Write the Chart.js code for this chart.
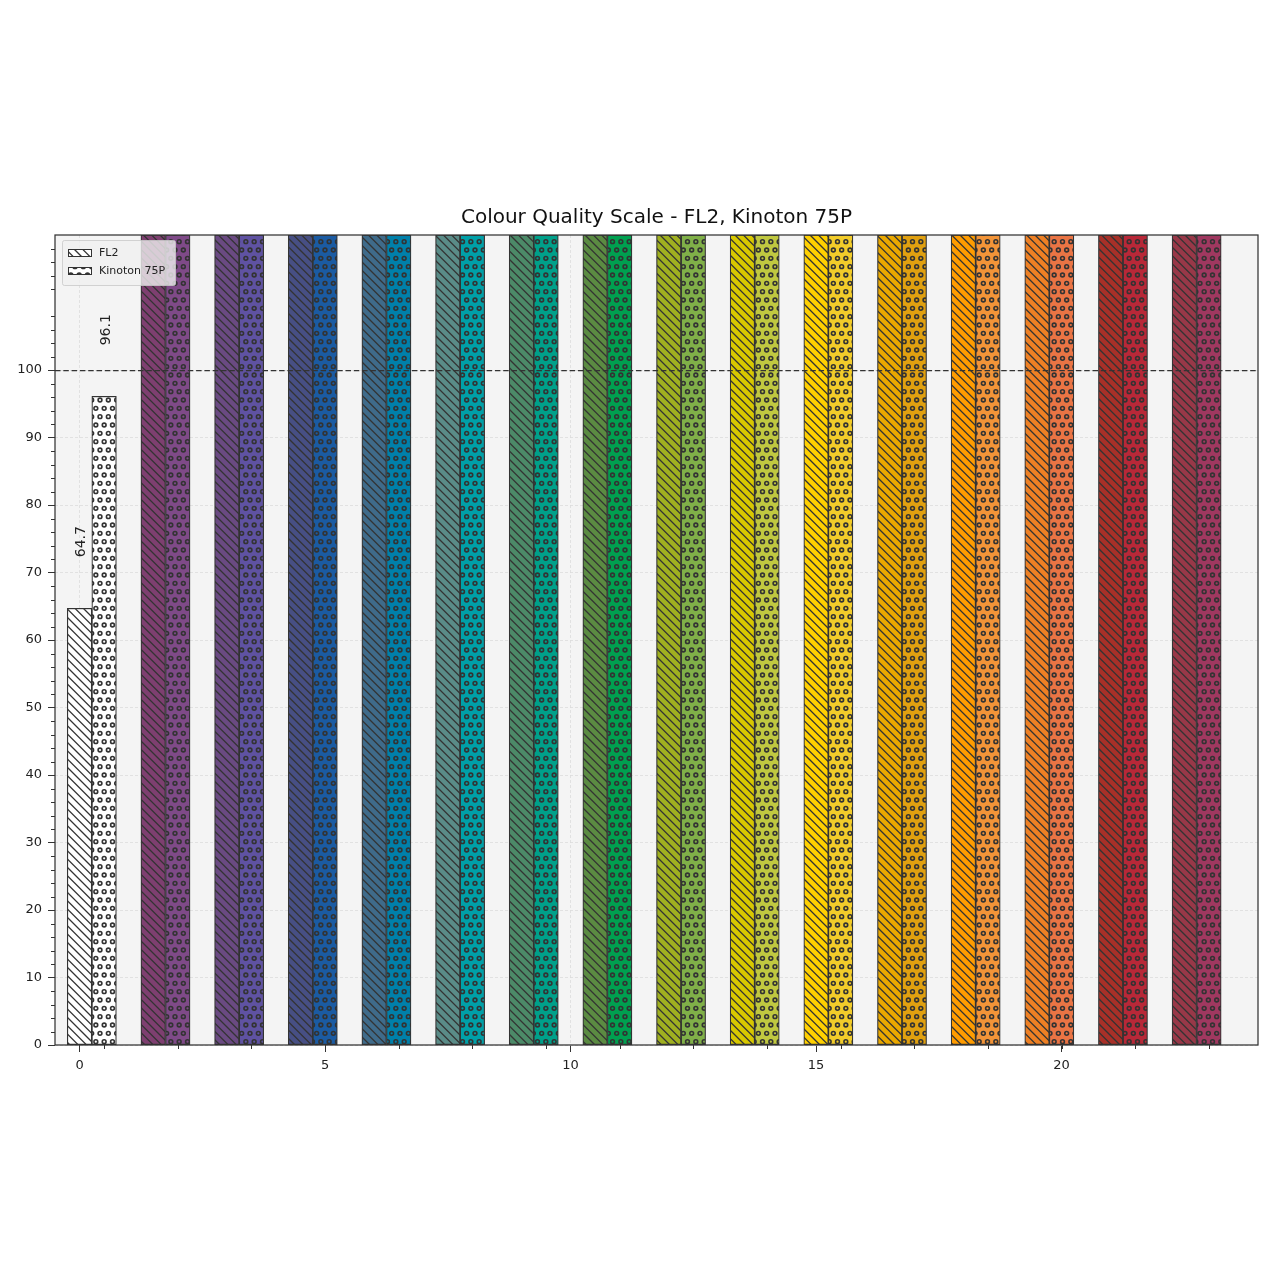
<!DOCTYPE html>
<html>
<head>
<meta charset="utf-8">
<script src="https://cdn.jsdelivr.net/npm/chart.js@4/dist/chart.umd.min.js"></script>
<style>
html,body{margin:0;padding:0;background:#ffffff;}
#wrap{width:1280px;height:1280px;}
</style>
</head>
<body>
<div id="wrap"><canvas id="c" width="1280" height="1280"></canvas></div>
<script>
// ---------------- data ----------------
const titleText = 'Colour Quality Scale - FL2, Kinoton 75P';
const seriesNames = ['FL2', 'Kinoton 75P'];
const sampleNames = ['Qa', 'Q1', 'Q2', 'Q3', 'Q4', 'Q5', 'Q6', 'Q7', 'Q8', 'Q9', 'Q10', 'Q11', 'Q12', 'Q13', 'Q14', 'Q15'];
const fl2Positions = [0, 1.5, 3, 4.5, 6, 7.5, 9, 10.5, 12, 13.5, 15, 16.5, 18, 19.5, 21, 22.5];
const kinotonPositions = [0.5, 2, 3.5, 5, 6.5, 8, 9.5, 11, 12.5, 14, 15.5, 17, 18.5, 20, 21.5, 23];
const fl2Values = [64.7, 120, 120, 120, 120, 120, 120, 120, 120, 120, 120, 120, 120, 120, 120, 120];
const kinotonValues = [96.1, 120, 120, 120, 120, 120, 120, 120, 120, 120, 120, 120, 120, 120, 120, 120];
const labelledIndices = [0];
const referenceValue = 100;
const xMajorTicks = [0, 5, 10, 15, 20];
const xMinorTicks = [0.5, 2, 3.5, 5, 6.5, 8, 9.5, 11, 12.5, 14, 15.5, 17, 18.5, 20, 21.5, 23];
const yMajorTicks = [0, 10, 20, 30, 40, 50, 60, 70, 80, 90, 100];
const yMinorTicks = [2, 4, 6, 8, 12, 14, 16, 18, 22, 24, 26, 28, 32, 34, 36, 38, 42, 44, 46, 48,
  52, 54, 56, 58, 62, 64, 66, 68, 72, 74, 76, 78, 82, 84, 86, 88, 92, 94, 96, 98,
  102, 104, 106, 108, 112, 114, 116, 118];

// ---------------- styles ----------------
const fl2Colours = ['#ffffff', '#7e3f70', '#6a4a82', '#474f84', '#3f6b8a', '#5a8c88', '#4c8a68', '#5b8b42',
  '#a0b020', '#d8c800', '#ffd000', '#eaa800', '#ff9c00', '#ee8024', '#a83028', '#983848'];
const kinotonColours = ['#ffffff', '#7f4a88', '#5f52a2', '#1b5ba2', '#0080aa', '#00a0a8', '#00a08a', '#00a050',
  '#80b048', '#c0c840', '#f2cc2a', '#e0a010', '#f29438', '#ea7444', '#b82838', '#a03860'];
const edgeColour = '#333333';
const FONT = "'DejaVu Sans', sans-serif";

function makePattern(colour, kind) {
  const s = 100, step = s / 12;
  const t = document.createElement('canvas');
  t.width = s; t.height = s;
  const g = t.getContext('2d');
  g.fillStyle = colour;
  g.fillRect(0, 0, s, s);
  g.strokeStyle = edgeColour;
  if (kind === 'lines') {
    g.lineWidth = 1.3;
    g.beginPath();
    for (let c = -s; c <= s; c += step) {
      g.moveTo(c - step, -step);
      g.lineTo(c + s + step, s + step);
    }
    g.stroke();
  } else {
    g.lineWidth = 1.6;
    for (let i = 0; i <= 12; i++) {
      const yy = i * step;
      const off = (i % 2) ? step / 2 : 0;
      for (let j = -1; j <= 12; j++) {
        const xx = off + j * step;
        g.beginPath();
        g.arc(xx, yy, 1.9, 0, Math.PI * 2);
        g.stroke();
      }
    }
  }
  const ctx = document.getElementById('c').getContext('2d');
  return ctx.createPattern(t, 'repeat');
}

const fl2Fill = fl2Colours.map(c => makePattern(c, 'lines'));
const kinotonFill = kinotonColours.map(c => makePattern(c, 'dots'));
const legendFill = [makePattern('#ffffff', 'lines'), makePattern('#ffffff', 'dots')];

const datasets = [
  {
    label: seriesNames[0],
    data: fl2Positions.map((x, i) => ({x: x, y: fl2Values[i]})),
    backgroundColor: fl2Fill,
    borderColor: edgeColour,
    borderWidth: 1.2,
    borderSkipped: false,
    grouped: false,
    barPercentage: 1,
    categoryPercentage: 1
  },
  {
    label: seriesNames[1],
    data: kinotonPositions.map((x, i) => ({x: x, y: kinotonValues[i]})),
    backgroundColor: kinotonFill,
    borderColor: edgeColour,
    borderWidth: 1.2,
    borderSkipped: false,
    grouped: false,
    barPercentage: 1,
    categoryPercentage: 1
  }
];

const decorations = {
  id: 'decorations',
  beforeDraw(chart) {
    const {ctx, chartArea: a} = chart;
    ctx.save();
    ctx.fillStyle = '#f4f4f4';
    ctx.fillRect(a.left, a.top, a.right - a.left, a.bottom - a.top);
    ctx.restore();
  },
  afterDatasetsDraw(chart) {
    const {ctx, chartArea: a, scales} = chart;
    const xs = scales.x, ys = scales.y;
    ctx.save();
    // reference line
    const yr = Math.round(ys.getPixelForValue(referenceValue)) + 0.5;
    ctx.strokeStyle = edgeColour;
    ctx.lineWidth = 1.25;
    ctx.setLineDash([5.5, 2.8]);
    ctx.beginPath();
    ctx.moveTo(a.left, yr);
    ctx.lineTo(a.right, yr);
    ctx.stroke();
    ctx.setLineDash([]);

    // frame
    ctx.lineWidth = 1.25;
    ctx.strokeStyle = edgeColour;
    ctx.strokeRect(a.left, a.top, a.right - a.left, a.bottom - a.top);

    // minor ticks
    ctx.lineWidth = 1;
    ctx.beginPath();
    xMinorTicks.forEach(v => {
      const px = Math.round(xs.getPixelForValue(v)) + 0.5;
      ctx.moveTo(px, a.bottom);
      ctx.lineTo(px, a.bottom + 4);
    });
    yMinorTicks.forEach(v => {
      const py = Math.round(ys.getPixelForValue(v)) + 0.5;
      ctx.moveTo(a.left, py);
      ctx.lineTo(a.left - 4, py);
    });
    ctx.stroke();

    // title
    ctx.fillStyle = '#111111';
    ctx.font = '20px ' + FONT;
    ctx.textAlign = 'center';
    ctx.textBaseline = 'middle';
    ctx.fillText(titleText, (a.left + a.right) / 2, a.top - 17);

    // value labels
    ctx.fillStyle = '#222222';
    ctx.font = '14px ' + FONT;
    ctx.textAlign = 'left';
    ctx.textBaseline = 'middle';
    chart.data.datasets.forEach((ds, di) => {
      const meta = chart.getDatasetMeta(di);
      labelledIndices.forEach(i => {
        const bar = meta.data[i];
        const v = ds.data[i].y;
        ctx.save();
        ctx.translate(bar.x + 2, bar.y - 51);
        ctx.rotate(-Math.PI / 2);
        ctx.fillText(v.toFixed(1), 0, 0);
        ctx.restore();
      });
    });

    // legend
    const lx = a.left + 7, ly = a.top + 5, lw = 113, lh = 45;
    ctx.fillStyle = 'rgba(240,240,240,0.8)';
    ctx.strokeStyle = 'rgba(200,200,200,0.8)';
    ctx.lineWidth = 1;
    ctx.beginPath();
    if (ctx.roundRect) ctx.roundRect(lx + 0.5, ly + 0.5, lw, lh, 2); else ctx.rect(lx + 0.5, ly + 0.5, lw, lh);
    ctx.fill();
    ctx.stroke();
    ctx.font = '11px ' + FONT;
    ctx.textBaseline = 'middle';
    ctx.textAlign = 'left';
    chart.data.datasets.forEach((ds, di) => {
      const hy = ly + 9 + di * 18;
      ctx.fillStyle = legendFill[di];
      ctx.fillRect(lx + 6, hy, 23, 7);
      ctx.strokeStyle = edgeColour;
      ctx.lineWidth = 1;
      ctx.strokeRect(lx + 6.5, hy + 0.5, 23, 7);
      ctx.fillStyle = '#222222';
      ctx.fillText(ds.label, lx + 37, hy + 4);
    });
    ctx.restore();
  }
};

Chart.defaults.font.family = FONT;

new Chart(document.getElementById('c'), {
  type: 'bar',
  data: {datasets: datasets},
  plugins: [decorations],
  options: {
    responsive: false,
    devicePixelRatio: 1,
    animation: false,
    events: [],
    layout: {padding: {left: 0, right: 22, top: 235, bottom: 0}},
    plugins: {
      legend: {display: false},
      tooltip: {enabled: false},
      title: {display: false}
    },
    scales: {
      x: {
        type: 'linear',
        min: -0.5,
        max: 24,
        offset: false,
        afterBuildTicks(scale) { scale.ticks = xMajorTicks.map(v => ({value: v})); },
        afterFit(scale) { scale.height = 235; },
        ticks: {
          color: '#222222',
          font: {family: FONT, size: 13},
          padding: 6,
          maxRotation: 0,
          autoSkip: false,
          callback: v => String(v)
        },
        grid: {
          offset: false,
          color: '#dcdcdc',
          lineWidth: 0.8,
          drawTicks: true,
          tickLength: 7,
          tickColor: edgeColour,
          tickWidth: 1,
          tickBorderDash: []
        },
        border: {display: false, dash: [3, 2]}
      },
      y: {
        type: 'linear',
        min: 0,
        max: 120,
        afterBuildTicks(scale) { scale.ticks = yMajorTicks.map(v => ({value: v})); },
        afterFit(scale) { scale.width = 55; },
        ticks: {
          color: '#222222',
          font: {family: FONT, size: 13},
          padding: 6,
          autoSkip: false,
          callback: v => String(v)
        },
        grid: {
          color: '#dcdcdc',
          lineWidth: 0.8,
          drawTicks: true,
          tickLength: 7,
          tickColor: edgeColour,
          tickWidth: 1,
          tickBorderDash: []
        },
        border: {display: false, dash: [3, 2]}
      }
    }
  }
});
</script>
</body>
</html>
